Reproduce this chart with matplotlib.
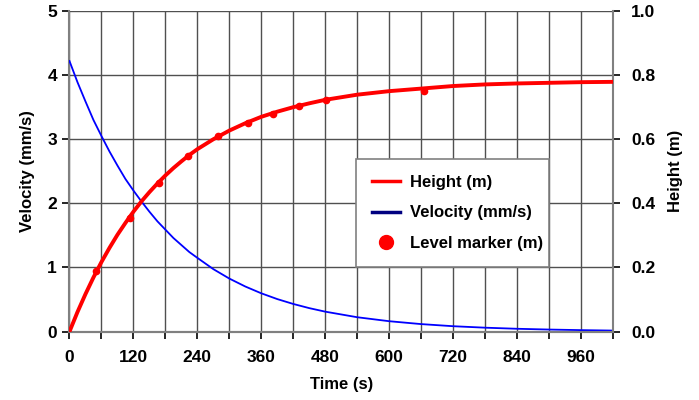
import matplotlib.pyplot as plt
from matplotlib.lines import Line2D

# time axis (s) and readings from the chart
time_s = [0, 15, 30, 45, 60, 75, 90, 105, 120, 135, 150, 165, 180, 195, 210, 225,
          240, 270, 300, 330, 360, 390, 420, 450, 480, 540, 600, 660, 720, 780,
          840, 900, 960, 1020]
height_m = [0.0, 0.061, 0.117, 0.169, 0.217, 0.261, 0.302, 0.339, 0.374, 0.406,
            0.435, 0.462, 0.487, 0.510, 0.531, 0.551, 0.569, 0.600, 0.627, 0.650,
            0.670, 0.686, 0.700, 0.712, 0.723, 0.739, 0.750, 0.758, 0.766, 0.771,
            0.774, 0.776, 0.778, 0.779]
velocity_mms = [4.22, 3.89, 3.59, 3.30, 3.05, 2.81, 2.59, 2.38, 2.20, 2.03,
                1.87, 1.72, 1.59, 1.46, 1.35, 1.24, 1.15, 0.974, 0.827, 0.703,
                0.597, 0.507, 0.431, 0.366, 0.311, 0.224, 0.162, 0.117, 0.084, 0.061,
                0.044, 0.032, 0.023, 0.016]

# level marker readings
marker_t = [50, 114, 168, 223, 279, 335, 381, 430, 482, 666]
marker_h = [0.190, 0.355, 0.465, 0.548, 0.610, 0.652, 0.680, 0.705, 0.722, 0.752]

plt.rcParams['font.family'] = ['Liberation Sans', 'DejaVu Sans']
plt.rcParams['font.weight'] = 'bold'

fig = plt.figure(figsize=(6.99, 4.0), dpi=100)
ax = fig.add_axes([0.0994, 0.171, 0.7776, 0.8015])
ax2 = ax.twinx()

grid_col = '#505050'
spine_col = '#808080'

# velocity on the left axis
ax.plot(time_s, velocity_mms, color='#0000FF', lw=1.3, zorder=3)
ax.set_xlim(0, 1020)
ax.set_ylim(0, 5)
ax.set_xticks(range(0, 1021, 60))
ax.set_xticklabels([str(t) if t % 120 == 0 else '' for t in range(0, 1021, 60)])
ax.set_yticks(range(0, 6))
ax.grid(True, color=grid_col, lw=1)
ax.set_axisbelow(True)

# height on the right axis
ax2.plot(time_s, height_m, color='#FF0000', lw=2.8, zorder=3)
ax2.plot(marker_t, marker_h, 'o', color='#FF0000', ms=4.5, ls='none', zorder=4)
ax2.set_ylim(0, 1.0)
ax2.set_yticks([0, 0.2, 0.4, 0.6, 0.8, 1.0])
ax2.set_yticklabels(['0.0', '0.2', '0.4', '0.6', '0.8', '1.0'])

for a in (ax, ax2):
    for s in a.spines.values():
        s.set_color(spine_col)
        s.set_linewidth(1.5)
    a.spines['top'].set_visible(False)
    a.tick_params(colors='black', labelsize=12.5, length=5, width=1.2, direction='out')
    for lab in a.get_xticklabels() + a.get_yticklabels():
        lab.set_fontweight('bold')
ax.spines['right'].set_visible(False)
ax2.spines['left'].set_visible(False)
ax.tick_params(axis='x', pad=8)
ax.tick_params(axis='y', pad=4)
ax2.tick_params(axis='y', pad=8)

ax.set_xlabel('Time (s)', fontsize=12, fontweight='bold', labelpad=9)
ax.set_ylabel('Velocity (mm/s)', fontsize=12, fontweight='bold', labelpad=9)
ax2.set_ylabel('Height (m)', fontsize=12, fontweight='bold', labelpad=9)

handles = [
    Line2D([], [], color='#FF0000', lw=2.5),
    Line2D([], [], color='#000080', lw=2.5),
    Line2D([], [], marker='o', color='#FF0000', ls='none', ms=10),
]
labels = ['Height (m)', 'Velocity (mm/s)', 'Level marker (m)']
leg = ax2.legend(handles, labels, loc='lower left', bbox_to_anchor=(0.527, 0.202, 0.355, 0.333),
                 mode='expand', fancybox=False, framealpha=1, edgecolor='#808080',
                 prop={'size': 12, 'weight': 'bold'}, handlelength=1.7, borderpad=0.97,
                 labelspacing=0.92, handletextpad=0.6, borderaxespad=0)
leg.get_frame().set_linewidth(1.2)

fig.savefig('out.png', dpi=100)
